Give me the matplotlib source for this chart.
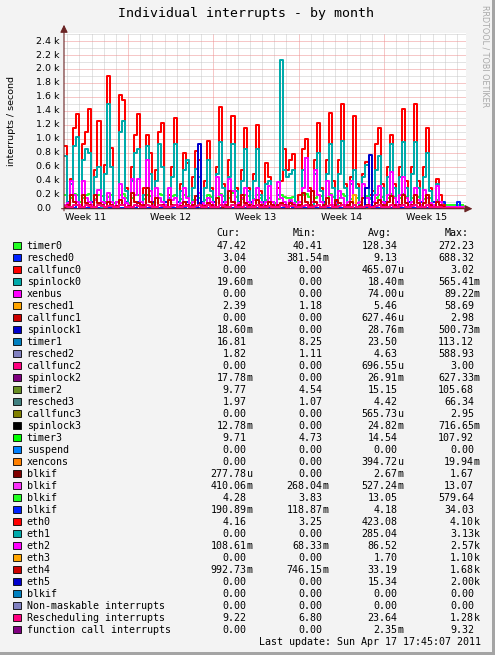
import matplotlib

matplotlib.use("Agg")
import matplotlib.dates as mdates
import matplotlib.pyplot as plt
import matplotlib.transforms as mtransforms
import pandas as pd
from matplotlib.patches import Rectangle
from matplotlib.ticker import MultipleLocator

# ---- data (values in thousands of interrupts / second, one sample per 6 h) ----
START = "2011-03-15 17:45"
END = "2011-04-17 17:45"

timer0_k = [
    0.20, 0.10, 0.15, 0.21, 0.20, 0.09, 0.15, 0.20, 0.21, 0.09, 0.14, 0.20,
    0.18, 0.09, 0.17, 0.20, 0.08, 0.10, 0.20, 0.21, 0.15, 0.08, 0.16, 0.20,
    0.19, 0.09, 0.14, 0.20, 0.18, 0.08, 0.15, 0.21, 0.19, 0.09, 0.12, 0.18,
    0.20, 0.09, 0.14, 0.19, 0.17, 0.08, 0.13, 0.18, 0.16, 0.08, 0.12, 0.19,
    0.17, 0.09, 0.15, 0.21, 0.18, 0.09, 0.16, 0.22, 0.17, 0.08, 0.14, 0.20,
    0.18, 0.08, 0.14, 0.19, 0.15, 0.08, 0.12, 0.16, 0.10, 0.08, 0.14, 0.20,
    0.17, 0.15, 0.16, 0.17, 0.09, 0.10, 0.20, 0.21, 0.17, 0.09, 0.15, 0.20,
    0.18, 0.08, 0.15, 0.21, 0.17, 0.09, 0.16, 0.21, 0.18, 0.09, 0.14, 0.20,
    0.16, 0.09, 0.15, 0.18, 0.14, 0.10, 0.16, 0.20, 0.17, 0.09, 0.15, 0.21,
    0.17, 0.09, 0.16, 0.21, 0.17, 0.09, 0.15, 0.20, 0.17, 0.09, 0.14, 0.20,
    0.16, 0.09, 0.12, 0.10, 0.07, 0.06, 0.06, 0.05, 0.06, 0.05, 0.06, 0.05,
]
resched0_k = [
    0.01, 0.10, 0.01, 0.01, 0.09, 0.01, 0.01, 0.01, 0.01, 0.10, 0.01, 0.01,
    0.10, 0.01, 0.01, 0.01, 0.01, 0.10, 0.01, 0.01, 0.09, 0.01, 0.01, 0.01,
    0.10, 0.01, 0.01, 0.01, 0.01, 0.09, 0.01, 0.01, 0.01, 0.10, 0.01, 0.01,
    0.01, 0.10, 0.01, 0.01, 0.09, 0.01, 0.01, 0.01, 0.01, 0.10, 0.01, 0.01,
    0.01, 0.10, 0.01, 0.01, 0.09, 0.01, 0.01, 0.01, 0.01, 0.10, 0.01, 0.01,
    0.01, 0.10, 0.01, 0.01, 0.01, 0.09, 0.01, 0.01, 0.10, 0.01, 0.01, 0.01,
    0.01, 0.01, 0.10, 0.01, 0.01, 0.09, 0.01, 0.01, 0.01, 0.10, 0.01, 0.01,
    0.01, 0.10, 0.01, 0.01, 0.01, 0.09, 0.01, 0.01, 0.01, 0.10, 0.01, 0.01,
    0.01, 0.10, 0.01, 0.01, 0.01, 0.01, 0.01, 0.01, 0.01, 0.10, 0.01, 0.01,
    0.01, 0.09, 0.01, 0.01, 0.01, 0.10, 0.01, 0.01, 0.01, 0.09, 0.01, 0.01,
    0.01, 0.10, 0.01, 0.01, 0.09, 0.01, 0.01, 0.01, 0.01, 0.10, 0.01, 0.01,
]
eth0_k = [
    0.90, 0.05, 0.43, 1.15, 1.35, 0.05, 0.93, 1.10, 1.42, 0.05, 0.55, 1.25,
    0.05, 0.63, 1.90, 0.87, 0.04, 0.10, 1.63, 1.55, 0.30, 0.05, 0.60, 1.05,
    1.35, 0.05, 0.30, 1.05, 0.80, 0.05, 0.55, 1.10, 1.22, 0.05, 0.20, 0.60,
    1.30, 0.05, 0.35, 0.80, 0.65, 0.04, 0.45, 0.82, 0.70, 0.05, 0.40, 0.97,
    0.30, 0.05, 0.60, 1.45, 0.35, 0.05, 0.70, 1.32, 0.30, 0.05, 0.55, 1.15,
    0.30, 0.05, 0.50, 1.20, 0.25, 0.05, 0.65, 0.45, 0.05, 0.05, 0.30, 0.40,
    0.85, 0.55, 0.70, 0.78, 0.05, 0.20, 0.85, 1.00, 0.30, 0.05, 0.70, 1.22,
    0.30, 0.05, 0.70, 1.37, 0.40, 0.05, 0.70, 1.50, 0.35, 0.05, 0.45, 1.32,
    0.35, 0.05, 0.50, 0.67, 0.20, 0.25, 0.93, 1.15, 0.35, 0.05, 0.60, 1.05,
    0.35, 0.05, 0.60, 1.43, 0.40, 0.05, 0.60, 1.50, 0.40, 0.05, 0.60, 1.15,
    0.30, 0.05, 0.42, 0.20, 0.05, 0.02, 0.02, 0.02, 0.02, 0.02, 0.02, 0.02,
]
eth1_k = [
    0.75, 0.03, 0.35, 0.90, 1.03, 0.03, 0.70, 0.85, 0.80, 0.03, 0.45, 0.60,
    0.03, 0.50, 1.50, 0.60, 0.02, 0.10, 1.10, 1.25, 0.25, 0.03, 0.40, 0.80,
    0.85, 0.03, 0.20, 0.90, 0.50, 0.03, 0.40, 0.93, 0.60, 0.03, 0.15, 0.45,
    0.93, 0.03, 0.25, 0.55, 0.70, 0.02, 0.30, 0.57, 0.45, 0.03, 0.30, 0.70,
    0.25, 0.03, 0.50, 0.95, 0.30, 0.03, 0.45, 0.93, 0.25, 0.03, 0.40, 0.85,
    0.25, 0.03, 0.40, 0.85, 0.20, 0.03, 0.35, 0.40, 0.03, 0.03, 0.20, 2.13,
    0.55, 0.45, 0.50, 0.55, 0.03, 0.10, 0.55, 0.72, 0.25, 0.03, 0.50, 0.80,
    0.25, 0.03, 0.50, 0.93, 0.30, 0.03, 0.50, 0.97, 0.30, 0.03, 0.35, 0.55,
    0.30, 0.03, 0.45, 0.63, 0.15, 0.20, 0.55, 0.75, 0.30, 0.03, 0.45, 0.93,
    0.30, 0.03, 0.45, 0.95, 0.30, 0.03, 0.50, 0.95, 0.30, 0.03, 0.45, 0.80,
    0.25, 0.03, 0.35, 0.10, 0.02, 0.00, 0.00, 0.00, 0.00, 0.00, 0.00, 0.00,
]
eth2_k = [
    0.05, 0.08, 0.40, 0.20, 0.10, 0.05, 0.40, 0.15, 0.10, 0.05, 0.12, 0.27,
    0.10, 0.08, 0.22, 0.10, 0.04, 0.10, 0.35, 0.15, 0.08, 0.05, 0.43, 0.20,
    0.42, 0.10, 0.05, 0.70, 0.25, 0.05, 0.30, 0.15, 0.10, 0.05, 0.30, 0.12,
    0.15, 0.05, 0.08, 0.30, 0.15, 0.04, 0.10, 0.12, 0.22, 0.08, 0.05, 0.15,
    0.10, 0.05, 0.45, 0.20, 0.05, 0.10, 0.43, 0.25, 0.05, 0.08, 0.15, 0.30,
    0.10, 0.04, 0.12, 0.30, 0.10, 0.04, 0.10, 0.32, 0.10, 0.05, 0.38, 0.15,
    0.10, 0.05, 0.12, 0.08, 0.05, 0.10, 0.30, 0.72, 0.25, 0.10, 0.55, 0.20,
    0.10, 0.05, 0.40, 0.20, 0.05, 0.08, 0.25, 0.15, 0.05, 0.10, 0.40, 0.20,
    0.08, 0.10, 0.35, 0.15, 0.05, 0.10, 0.20, 0.33, 0.10, 0.08, 0.20, 0.52,
    0.15, 0.05, 0.20, 0.46, 0.15, 0.05, 0.10, 0.30, 0.12, 0.05, 0.27, 0.15,
    0.08, 0.05, 0.32, 0.10, 0.03, 0.02, 0.02, 0.02, 0.02, 0.02, 0.02, 0.02,
]
eth3_k = [
    0, 0, 0, 0, 0, 0, 0, 0, 0, 0, 0, 0,
    0, 0, 0, 0, 0, 0, 0, 0, 0, 0, 0, 0,
    0, 0, 0, 0, 0, 0, 0, 0, 0, 0, 0, 0,
    0, 0, 0, 0, 0, 0, 0, 0, 0, 0, 0, 0,
    0, 0, 0, 0, 0, 0, 0, 0, 0, 0, 0, 0,
    0, 0, 0, 0, 0, 0, 0, 0, 0, 0, 0, 0,
    0, 0, 0, 0, 0, 0, 0, 0, 0, 0, 0, 0,
    0, 0, 0, 0, 0, 0, 0, 0, 0, 0, 0, 0.20,
    0, 0, 0, 0, 0, 0, 0, 0, 0, 0, 0, 0,
    0, 0, 0, 0, 0, 0, 0, 0, 0, 0, 0, 0,
    0, 0, 0, 0, 0, 0, 0, 0, 0, 0, 0, 0,
]
eth4_k = [
    0.02, 0.05, 0.20, 0.10, 0.05, 0.03, 0.20, 0.08, 0.05, 0.03, 0.20, 0.08,
    0.05, 0.03, 0.10, 0.05, 0.02, 0.04, 0.12, 0.05, 0.03, 0.04, 0.22, 0.10,
    0.08, 0.03, 0.05, 0.30, 0.10, 0.03, 0.15, 0.06, 0.05, 0.03, 0.12, 0.05,
    0.05, 0.02, 0.04, 0.10, 0.05, 0.02, 0.05, 0.18, 0.08, 0.03, 0.04, 0.08,
    0.05, 0.03, 0.15, 0.06, 0.03, 0.05, 0.25, 0.10, 0.03, 0.05, 0.20, 0.08,
    0.05, 0.03, 0.04, 0.12, 0.05, 0.02, 0.04, 0.10, 0.05, 0.02, 0.05, 0.08,
    0.05, 0.02, 0.08, 0.05, 0.03, 0.05, 0.22, 0.10, 0.05, 0.25, 0.10, 0.05,
    0.03, 0.05, 0.15, 0.06, 0.03, 0.12, 0.08, 0.05, 0.03, 0.05, 0.10, 0.05,
    0.03, 0.04, 0.15, 0.06, 0.03, 0.04, 0.08, 0.12, 0.05, 0.03, 0.10, 0.18,
    0.06, 0.03, 0.05, 0.20, 0.08, 0.03, 0.05, 0.20, 0.08, 0.03, 0.08, 0.20,
    0.05, 0.03, 0.10, 0.05, 0.02, 0.01, 0.01, 0.01, 0.01, 0.01, 0.01, 0.01,
]
eth5_k = [
    0, 0, 0, 0, 0, 0, 0, 0, 0, 0, 0, 0,
    0, 0, 0, 0, 0, 0, 0, 0, 0, 0, 0, 0,
    0, 0, 0, 0, 0, 0, 0, 0, 0, 0, 0, 0,
    0, 0, 0, 0, 0, 0, 0, 0, 0.93, 0, 0, 0,
    0, 0, 0, 0, 0, 0, 0, 0, 0, 0, 0, 0,
    0, 0, 0, 0, 0, 0, 0, 0, 0, 0, 0, 0,
    0, 0, 0, 0, 0, 0, 0, 0, 0, 0, 0, 0,
    0, 0, 0, 0, 0, 0, 0, 0, 0, 0, 0, 0,
    0, 0, 0, 0.30, 0.77, 0, 0, 0, 0, 0, 0, 0,
    0, 0, 0, 0, 0, 0, 0, 0, 0, 0, 0, 0,
    0, 0, 0, 0, 0, 0, 0, 0, 0, 0, 0, 0,
]
resched_irq_k = [
    0.04, 0.02, 0.03, 0.05, 0.05, 0.02, 0.03, 0.05, 0.04, 0.02, 0.03, 0.05,
    0.04, 0.02, 0.04, 0.04, 0.02, 0.02, 0.05, 0.05, 0.03, 0.02, 0.03, 0.05,
    0.04, 0.02, 0.03, 0.05, 0.04, 0.02, 0.03, 0.05, 0.04, 0.02, 0.02, 0.04,
    0.05, 0.02, 0.03, 0.04, 0.04, 0.02, 0.03, 0.04, 0.05, 0.02, 0.03, 0.05,
    0.03, 0.02, 0.03, 0.05, 0.04, 0.02, 0.03, 0.05, 0.03, 0.02, 0.03, 0.05,
    0.03, 0.02, 0.03, 0.05, 0.03, 0.02, 0.03, 0.04, 0.02, 0.02, 0.03, 0.05,
    0.04, 0.03, 0.04, 0.04, 0.02, 0.02, 0.04, 0.05, 0.03, 0.02, 0.04, 0.05,
    0.03, 0.02, 0.04, 0.05, 0.03, 0.02, 0.04, 0.05, 0.03, 0.02, 0.03, 0.05,
    0.03, 0.02, 0.03, 0.04, 0.03, 0.02, 0.04, 0.05, 0.03, 0.02, 0.03, 0.05,
    0.03, 0.02, 0.04, 0.05, 0.03, 0.02, 0.04, 0.05, 0.03, 0.02, 0.03, 0.05,
    0.03, 0.02, 0.03, 0.02, 0.01, 0.01, 0.01, 0.01, 0.01, 0.01, 0.01, 0.01,
]

# plotted series, in drawing order
plot_series = [
    (timer0_k, "#22ff22"),
    (resched0_k, "#0022ff"),
    (eth0_k, "#ff0000"),
    (eth1_k, "#00aaaa"),
    (eth2_k, "#ff00ff"),
    (eth3_k, "#ffa500"),
    (eth4_k, "#cc0000"),
    (eth5_k, "#0000cc"),
    (resched_irq_k, "#ff0080"),
]

# legend table
names = [
    "timer0", "resched0", "callfunc0", "spinlock0", "xenbus", "resched1",
    "callfunc1", "spinlock1", "timer1", "resched2", "callfunc2", "spinlock2",
    "timer2", "resched3", "callfunc3", "spinlock3", "timer3", "suspend",
    "xencons", "blkif", "blkif", "blkif", "blkif", "eth0", "eth1", "eth2",
    "eth3", "eth4", "eth5", "blkif", "Non-maskable interrupts",
    "Rescheduling interrupts", "function call interrupts",
]
cur = [
    "47.42", "3.04", "0.00", "19.60m", "0.00", "2.39", "0.00", "18.60m",
    "16.81", "1.82", "0.00", "17.78m", "9.77", "1.97", "0.00", "12.78m",
    "9.71", "0.00", "0.00", "277.78u", "410.06m", "4.28", "190.89m", "4.16",
    "0.00", "108.61m", "0.00", "992.73m", "0.00", "0.00", "0.00", "9.22", "0.00",
]
mins = [
    "40.41", "381.54m", "0.00", "0.00", "0.00", "1.18", "0.00", "0.00",
    "8.25", "1.11", "0.00", "0.00", "4.54", "1.07", "0.00", "0.00",
    "4.73", "0.00", "0.00", "0.00", "268.04m", "3.83", "118.87m", "3.25",
    "0.00", "68.33m", "0.00", "746.15m", "0.00", "0.00", "0.00", "6.80", "0.00",
]
avgs = [
    "128.34", "9.13", "465.07u", "18.40m", "74.00u", "5.46", "627.46u", "28.76m",
    "23.50", "4.63", "696.55u", "26.91m", "15.15", "4.42", "565.73u", "24.82m",
    "14.54", "0.00", "394.72u", "2.67m", "527.24m", "13.05", "4.18", "423.08",
    "285.04", "86.52", "1.70", "33.19", "15.34", "0.00", "0.00", "23.64", "2.35m",
]
maxs = [
    "272.23", "688.32", "3.02", "565.41m", "89.22m", "58.69", "2.98", "500.73m",
    "113.12", "588.93", "3.00", "627.33m", "105.68", "66.34", "2.95", "716.65m",
    "107.92", "0.00", "19.94m", "1.67", "13.07", "579.64", "34.03", "4.10k",
    "3.13k", "2.57k", "1.10k", "1.68k", "2.00k", "0.00", "0.00", "1.28k", "9.32",
]
palette = [
    "#22ff22", "#0022ff", "#ff0000", "#00aaaa", "#ff00ff", "#ffa500", "#cc0000",
    "#0000cc", "#0080c0", "#8080c0", "#ff0080", "#800080", "#688e23", "#408080",
    "#808000", "#000000", "#00ff00", "#0080ff", "#ff8000", "#800000", "#fb31fb",
]

W, H = 495, 655
MONO = "DejaVu Sans Mono"


def fx(px):
    return px / W


def fy(py):
    return 1 - py / H


fig = plt.figure(figsize=(W / 100, H / 100), dpi=100)
fig.patch.set_facecolor("#f3f3f3")

ax = fig.add_axes([fx(64), fy(208.7), (466 - 64) / W, (208.7 - 33) / H])
ax.set_facecolor("white")

times = pd.date_range(START, periods=len(eth0_k), freq="6h").to_pydatetime()
for values, color in plot_series:
    ax.step(times, values, where="post", color=color, lw=1.44)

ax.set_xlim(pd.Timestamp(START).to_pydatetime(), pd.Timestamp(END).to_pydatetime())
ax.set_ylim(0, 2.515)

# grid like rrdtool: grey minor, red major
ax.xaxis.set_major_locator(mdates.WeekdayLocator(byweekday=mdates.MO))
ax.xaxis.set_minor_locator(mdates.DayLocator())
ax.yaxis.set_major_locator(MultipleLocator(0.2))
ax.yaxis.set_minor_locator(MultipleLocator(0.1))
ax.grid(which="minor", color="#c8c8c8", lw=0.72, linestyle=(0, (1, 1)))
ax.grid(which="major", color="#ee9090", lw=0.72, linestyle=(0, (1, 1)))
ax.set_axisbelow(True)
ax.tick_params(which="both", length=0, labelbottom=False, labelleft=False)
for side in ax.spines:
    ax.spines[side].set_visible(False)

arrow = dict(arrowstyle="-|>,head_length=0.45,head_width=0.22", color="#6a2424",
             lw=0.8, shrinkA=0, shrinkB=0)
ax.annotate("", xy=(1.016, 0), xytext=(-0.006, 0), xycoords="axes fraction",
            arrowprops=arrow)
ax.annotate("", xy=(0, 1.047), xytext=(0, -0.012), xycoords="axes fraction",
            arrowprops=arrow)

# y tick labels
ytrans = mtransforms.offset_copy(ax.get_yaxis_transform(), fig=fig, x=-4.7, y=0,
                                 units="dots")
for v in [0.2 * i for i in range(13)]:
    label = "0.0" if v == 0 else f"{v:.1f} k"
    dx = -8.4 if v == 0 else 0
    t = mtransforms.offset_copy(ytrans, fig=fig, x=dx, y=0, units="dots")
    ax.text(0, v, label, transform=t, ha="right", va="center", fontsize=6.8)

# week labels centred on Thursday noon
xtrans = mtransforms.offset_copy(ax.get_xaxis_transform(), fig=fig, x=0, y=-9,
                                 units="dots")
for thu in pd.date_range("2011-03-17 12:00", END, freq="7D"):
    ax.text(thu.to_pydatetime(), 0, "Week %s" % thu.strftime("%V"),
            transform=xtrans, ha="center", va="center", fontsize=6.8)

fig.text(fx(246.5), fy(13), "Individual interrupts - by month", family=MONO,
         fontsize=9.5, ha="center", va="center")
fig.text(fx(11.7), fy(120.5), "interrupts / second", rotation=90, fontsize=6.8,
         ha="center", va="center")
fig.text(fx(484.5), fy(56.5), "RRDTOOL / TOBI OETIKER", rotation=270,
         fontsize=5.8, color="#a8a8a8", ha="center", va="center")

# legend block
for label, x in zip(["Cur:", "Min:", "Avg:", "Max:"], [216.7, 292.7, 368.3, 444.3]):
    fig.text(fx(x), fy(233), label, family=MONO, fontsize=7.2, ha="left",
             va="center")

col_ends = [246.7, 322.3, 397.7, 474.0]
for i, name in enumerate(names):
    y = 245.7 + 12.0 * i
    color = palette[i % len(palette)]
    fig.add_artist(Rectangle((fx(13.3), fy(y + 3.6)), 7.2 / W, 7.2 / H,
                             transform=fig.transFigure, facecolor=color,
                             edgecolor="black", lw=0.6))
    fig.text(fx(26.7), fy(y), name, family=MONO, fontsize=7.2, ha="left",
             va="center")
    for x, s in zip(col_ends, [cur[i], mins[i], avgs[i], maxs[i]]):
        num, suffix = (s[:-1], s[-1]) if s[-1].isalpha() else (s, "")
        fig.text(fx(x), fy(y), num, family=MONO, fontsize=7.2, ha="right",
                 va="center")
        if suffix:
            fig.text(fx(x), fy(y), suffix, family=MONO, fontsize=7.2,
                     ha="left", va="center")

fig.text(fx(481), fy(641.7), "Last update: Sun Apr 17 17:45:07 2011", family=MONO,
         fontsize=7.2, ha="right", va="center")

# 3d frame
fig.add_artist(Rectangle((fx(492), 0), 3 / W, 1, transform=fig.transFigure,
                         facecolor="#a4a4a4", lw=0))
fig.add_artist(Rectangle((0, 0), 1, 3 / H, transform=fig.transFigure,
                         facecolor="#a4a4a4", lw=0))

fig.savefig("out.png", dpi=100, facecolor=fig.get_facecolor())
